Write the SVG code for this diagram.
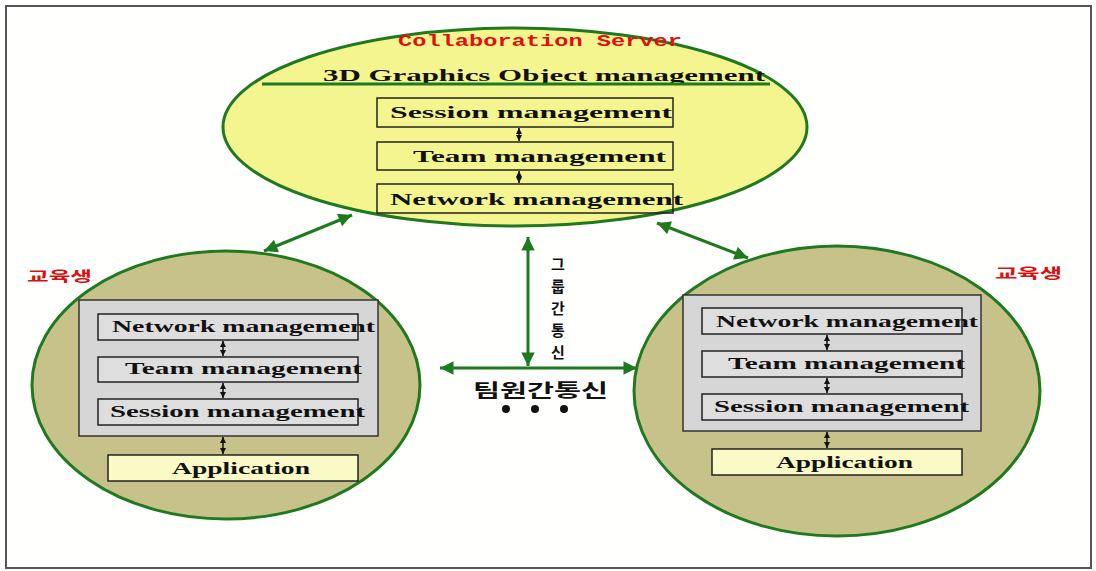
<svg xmlns="http://www.w3.org/2000/svg" width="1096" height="571" viewBox="0 0 1096 571">
<style>
.ell{stroke:#1f7a1f;stroke-width:3}
.box{stroke:#222;stroke-width:1.5}
.t{font-family:"Liberation Serif","DejaVu Serif",serif;font-weight:bold;font-size:17px;fill:#111}
.red{font-family:"Noto Sans CJK KR",sans-serif;font-weight:bold;font-size:14px;fill:#d81010}
.ko{font-family:"Noto Sans CJK KR",sans-serif;font-weight:bold;font-size:18px;fill:#111}
.kv{font-family:"Noto Sans CJK KR",sans-serif;font-weight:bold;font-size:15px;fill:#111}
.g{stroke:#1f7a1f;stroke-width:3;fill:none;marker-start:url(#ga);marker-end:url(#ga)}
.s{stroke:#111;stroke-width:1.5;fill:none;marker-start:url(#sa);marker-end:url(#sa)}
</style>
<defs>
<marker id="ga" viewBox="0 0 10 10" refX="10" refY="5" markerWidth="5" markerHeight="4.5" orient="auto-start-reverse" markerUnits="strokeWidth"><path d="M0,0 L10,5 L0,10 z" fill="#1f7a1f"/></marker>
<marker id="sa" viewBox="0 0 10 10" refX="10" refY="5" markerWidth="4" markerHeight="6" orient="auto-start-reverse" markerUnits="strokeWidth"><path d="M0,0 L10,5 L0,10 z" fill="#111"/></marker>
</defs>
<rect x="0" y="0" width="1096" height="571" fill="#ffffff"/>
<rect x="6" y="6" width="1085" height="562" fill="#fffffd" stroke="#555" stroke-width="2"/>

<g id="server">
<ellipse class="ell" cx="515" cy="127" rx="292" ry="99" fill="#f5f590"/>
<text x="398" y="46" font-family="Liberation Mono,monospace" font-size="16" font-weight="bold" fill="#e01010" textLength="284" lengthAdjust="spacingAndGlyphs">Collaboration Server</text>
<text class="t" x="323" y="81" textLength="442" lengthAdjust="spacingAndGlyphs">3D Graphics Object management</text>
<line x1="262" y1="84" x2="770" y2="84" stroke="#1f7a1f" stroke-width="3"/>
<rect class="box" x="377" y="98" width="296" height="29" fill="none"/>
<text class="t" x="390" y="118" textLength="282" lengthAdjust="spacingAndGlyphs">Session management</text>
<rect class="box" x="377" y="142" width="296" height="28" fill="none"/>
<text class="t" x="413" y="162" textLength="253" lengthAdjust="spacingAndGlyphs">Team management</text>
<rect class="box" x="377" y="184" width="296" height="29" fill="none"/>
<text class="t" x="390" y="205" textLength="293" lengthAdjust="spacingAndGlyphs">Network management</text>
</g>

<g id="student-left">
<ellipse class="ell" cx="226" cy="385" rx="194" ry="134" fill="#c6c28a"/>
<text class="red" x="27" y="281" textLength="65" lengthAdjust="spacingAndGlyphs">교육생</text>
<rect x="79" y="300" width="299" height="136" fill="#d6d6d6" stroke="#333" stroke-width="1.5"/>
<rect class="box" x="98" y="314" width="260" height="26" fill="#dedede"/>
<text class="t" x="112" y="332" font-size="15" textLength="263" lengthAdjust="spacingAndGlyphs">Network management</text>
<rect class="box" x="98" y="357" width="260" height="25" fill="#dedede"/>
<text class="t" x="125" y="374" font-size="15" textLength="237" lengthAdjust="spacingAndGlyphs">Team  management</text>
<rect class="box" x="98" y="399" width="260" height="26" fill="#dedede"/>
<text class="t" x="110" y="417" font-size="15" textLength="255" lengthAdjust="spacingAndGlyphs">Session management</text>
<rect class="box" x="108" y="455" width="250" height="26" fill="#fafac6"/>
<text class="t" x="172" y="474" font-size="15" textLength="138" lengthAdjust="spacingAndGlyphs">Application</text>
</g>

<g id="student-right">
<ellipse class="ell" cx="837" cy="391" rx="203" ry="145" fill="#c6c28a"/>
<text class="red" x="995" y="278" textLength="67" lengthAdjust="spacingAndGlyphs">교육생</text>
<rect x="683" y="295" width="298" height="136" fill="#d6d6d6" stroke="#333" stroke-width="1.5"/>
<rect class="box" x="702" y="308" width="260" height="26" fill="#dedede"/>
<text class="t" x="716" y="327" font-size="15" textLength="262" lengthAdjust="spacingAndGlyphs">Network management</text>
<rect class="box" x="702" y="351" width="260" height="26" fill="#dedede"/>
<text class="t" x="728" y="369" font-size="15" textLength="237" lengthAdjust="spacingAndGlyphs">Team  management</text>
<rect class="box" x="702" y="394" width="260" height="26" fill="#dedede"/>
<text class="t" x="714" y="412" font-size="15" textLength="255" lengthAdjust="spacingAndGlyphs">Session management</text>
<rect class="box" x="712" y="449" width="250" height="26" fill="#fafac6"/>
<text class="t" x="776" y="468" font-size="15" textLength="137" lengthAdjust="spacingAndGlyphs">Application</text>
</g>

<g id="connectors">
<line class="s" x1="519" y1="128" x2="519" y2="141"/>
<line class="s" x1="519" y1="171" x2="519" y2="183"/>
<line class="s" x1="223" y1="341" x2="223" y2="356"/>
<line class="s" x1="223" y1="383" x2="223" y2="398"/>
<line class="s" x1="223" y1="437" x2="223" y2="454"/>
<line class="s" x1="827" y1="335" x2="827" y2="350"/>
<line class="s" x1="827" y1="378" x2="827" y2="393"/>
<line class="s" x1="827" y1="432" x2="827" y2="448"/>
<line class="g" x1="264" y1="251" x2="352" y2="215"/>
<line class="g" x1="657" y1="223" x2="748" y2="258"/>
<line class="g" x1="528" y1="237" x2="528" y2="366"/>
<line class="g" x1="440" y1="368" x2="637" y2="368"/>
</g>

<g id="labels">
<text class="kv" x="558" y="270" text-anchor="middle">그</text>
<text class="kv" x="558" y="292" text-anchor="middle">룹</text>
<text class="kv" x="558" y="314" text-anchor="middle">간</text>
<text class="kv" x="558" y="336" text-anchor="middle">통</text>
<text class="kv" x="558" y="358" text-anchor="middle">신</text>
<text class="ko" x="473" y="397" textLength="135" lengthAdjust="spacingAndGlyphs">팀원간통신</text>
<circle cx="506" cy="409" r="4" fill="#111"/>
<circle cx="535" cy="409" r="4" fill="#111"/>
<circle cx="564" cy="409" r="4" fill="#111"/>
</g>
</svg>
